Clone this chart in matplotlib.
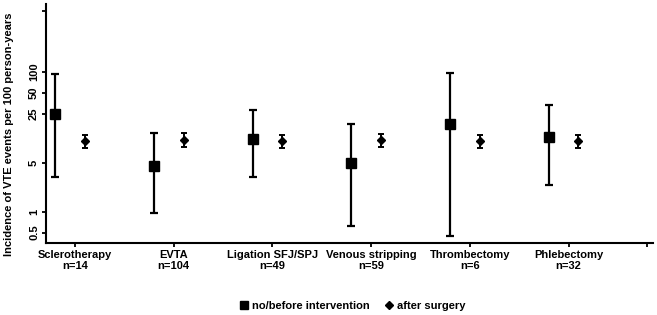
import numpy as np
import matplotlib.pyplot as plt
from matplotlib.lines import Line2D

plt.rcParams['font.family'] = ['Liberation Sans', 'DejaVu Sans']
plt.rcParams['font.weight'] = 'bold'

# procedures and group sizes
procedures = ["Sclerotherapy", "EVTA", "Ligation SFJ/SPJ", "Venous stripping", "Thrombectomy", "Phlebectomy"]
n_patients = [14, 104, 49, 59, 6, 32]

# incidence of VTE per 100 person-years, no/before intervention
before_est = [24.5, 4.5, 11.0, 4.9, 17.7, 11.5]
before_lo = [3.1, 0.95, 3.1, 0.62, 0.44, 2.4]
before_hi = [92.5, 13.2, 28.0, 17.7, 96.6, 33.4]

# after surgery
after_est = [10.2, 10.5, 10.2, 10.5, 10.2, 10.2]
after_lo = [8.2, 8.5, 8.2, 8.3, 8.2, 8.2]
after_hi = [12.4, 13.2, 12.6, 12.7, 12.4, 12.4]

ytick_vals = [0.5, 1, 5, 25, 50, 100]

x = np.arange(len(procedures))
before_err = [np.subtract(before_est, before_lo), np.subtract(before_hi, before_est)]
after_err = [np.subtract(after_est, after_lo), np.subtract(after_hi, after_est)]

fig = plt.figure(figsize=(6.57, 3.15), dpi=100)
ax = fig.add_axes([0.070, 0.228, 0.924, 0.759])

ax.errorbar(x - 0.2, before_est, yerr=before_err, fmt='s', color='black',
            markersize=7, elinewidth=1.6, capsize=3, capthick=1.6)
ax.errorbar(x + 0.1, after_est, yerr=after_err, fmt='D', color='black',
            markersize=4.5, elinewidth=1.4, capsize=2.5, capthick=1.4)

ax.set_yscale('log')
ax.set_ylim(0.353, 925)
ax.set_xlim(-0.294, 5.856)

ax.set_yticks(ytick_vals + [740])
ax.set_yticklabels([str(v) for v in ytick_vals] + [""], rotation=90, va='center', fontsize=8)
ax.yaxis.set_minor_locator(plt.NullLocator())

ax.set_xticks(list(x) + [5.79])
ax.set_xticklabels([f"{p}\nn={n}" for p, n in zip(procedures, n_patients)] + [""],
                   fontsize=8, linespacing=1.1)

ax.set_ylabel("Incidence of VTE events per 100 person-years", fontsize=8, fontweight='bold')
ax.yaxis.set_label_coords(-0.053, 0.455)

for s in ['top', 'right']:
    ax.spines[s].set_visible(False)
for s in ['left', 'bottom']:
    ax.spines[s].set_linewidth(1.5)
ax.tick_params(axis='both', width=1.3, length=3, pad=2)

handles = [Line2D([], [], marker='s', color='black', linestyle='none', markersize=6),
           Line2D([], [], marker='D', color='black', linestyle='none', markersize=4.5)]
fig.legend(handles, ["no/before intervention", "after surgery"], loc='center',
           bbox_to_anchor=(0.535, 0.03), ncol=2, frameon=False, fontsize=8,
           handletextpad=0.1, columnspacing=1.2, handlelength=1.2)

fig.savefig("out.png", dpi=100)
